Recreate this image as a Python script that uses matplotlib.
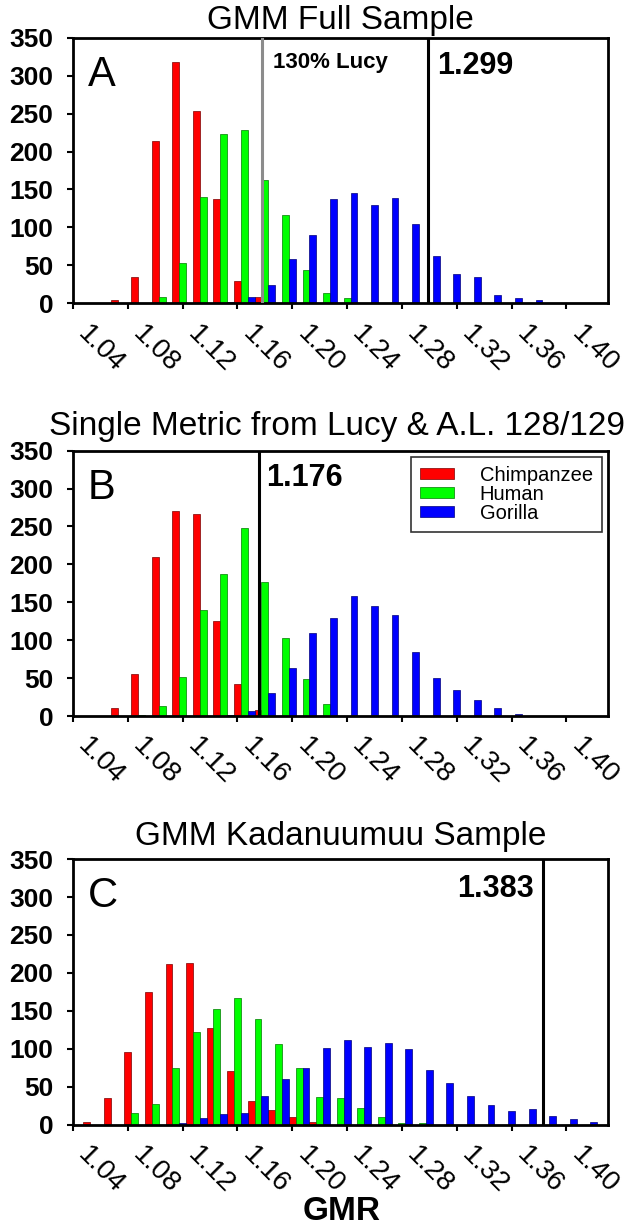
import numpy as np
import matplotlib.pyplot as plt

plt.rcParams['font.family'] = ['Liberation Sans', 'DejaVu Sans']

# ---------------- data (bin centres and counts) ----------------
bins_a = [1.045, 1.06, 1.075, 1.09, 1.105, 1.12, 1.135, 1.15, 1.165, 1.18, 1.195, 1.21,
          1.225, 1.24, 1.255, 1.27, 1.285, 1.30, 1.315, 1.33, 1.345, 1.36, 1.375]
chimp_a = [0, 0, 5, 35, 214, 318, 254, 137, 29, 8, 0, 0, 0, 0, 0, 0, 0, 0, 0, 0, 0, 0, 0]
human_a = [0, 0, 0, 0, 8, 53, 140, 223, 229, 162, 116, 44, 14, 7, 0, 0, 0, 0, 0, 0, 0, 0, 0]
gorilla_a = [0, 0, 0, 0, 0, 0, 0, 2, 8, 24, 59, 90, 137, 145, 130, 139, 105, 62, 39, 34, 11, 7, 5]

bins_b = bins_a
chimp_b = [0, 0, 11, 56, 210, 271, 267, 126, 43, 8, 0, 0, 0, 0, 0, 0, 0, 0, 0, 0, 0, 0, 0]
human_b = [0, 0, 0, 2, 13, 52, 140, 188, 248, 177, 103, 49, 16, 0, 0, 0, 0, 0, 0, 0, 0, 0, 0]
gorilla_b = [0, 0, 0, 0, 0, 0, 0, 2, 7, 30, 63, 110, 130, 159, 145, 134, 84, 50, 34, 21, 11, 3, 0]

bins_c = [1.055, 1.07, 1.085, 1.10, 1.115, 1.13, 1.145, 1.16, 1.175, 1.19, 1.205, 1.22, 1.235,
          1.25, 1.265, 1.28, 1.295, 1.31, 1.325, 1.34, 1.355, 1.37, 1.385, 1.40, 1.415]
chimp_c = [3, 35, 96, 175, 212, 213, 128, 71, 31, 20, 10, 3, 0, 0, 0, 0, 0, 0, 0, 0, 0, 0, 0, 0, 0]
human_c = [0, 0, 16, 27, 75, 122, 152, 167, 139, 107, 75, 37, 35, 22, 10, 2, 2, 0, 0, 0, 0, 0, 0, 0, 0]
gorilla_c = [0, 0, 0, 0, 2, 9, 14, 16, 38, 60, 75, 101, 112, 103, 108, 100, 72, 55, 38, 26, 18, 21, 11, 7, 3]

xticks = [1.04, 1.08, 1.12, 1.16, 1.20, 1.24, 1.28, 1.32, 1.36, 1.40]
yticks = [0, 50, 100, 150, 200, 250, 300, 350]

# ---------------- layout ----------------
fig = plt.figure(figsize=(6.24, 12.27), dpi=100)
left = 73 / 624
width = 534.5 / 624
height = 265.6 / 1227
ax_a = fig.add_axes([left, 1 - 303.3 / 1227, width, height])
ax_b = fig.add_axes([left, 1 - 716.2 / 1227, width, height])
ax_c = fig.add_axes([left, 1 - 1124.7 / 1227, width, height])

bw = 0.005  # three bars share one 0.015 bin


def draw_panel(ax, bins, chimp, human, gorilla, title, title_gap, title_x=0.5):
    x = np.array(bins)
    ax.bar(x - bw, chimp, width=bw, color='#ff0000', edgecolor='#7a0000', linewidth=0.5, label='Chimpanzee')
    ax.bar(x, human, width=bw, color='#00ff00', edgecolor='#007a00', linewidth=0.5, label='Human')
    ax.bar(x + bw, gorilla, width=bw, color='#0000ff', edgecolor='#00007a', linewidth=0.5, label='Gorilla')
    ax.set_xlim(1.04, 1.43)
    ax.set_ylim(0, 350)
    ax.set_yticks(yticks)
    ax.set_yticklabels([str(v) for v in yticks], fontsize=19, fontweight='bold')
    ax.set_xticks(xticks)
    ax.set_xticklabels(['%.2f' % v for v in xticks], fontsize=20, rotation=-45,
                       ha='left', va='top')
    ax.tick_params(axis='both', direction='out', length=4.3, width=1.5, color='black')
    ax.tick_params(axis='y', pad=10)
    ax.tick_params(axis='x', pad=8)
    for sp in ax.spines.values():
        sp.set_linewidth(2)
        sp.set_color('black')
    ax.text(title_x, 1 + title_gap / 265.6, title, transform=ax.transAxes, ha='center',
            va='baseline', fontsize=24)


draw_panel(ax_a, bins_a, chimp_a, human_a, gorilla_a, 'GMM Full Sample', 9)
draw_panel(ax_b, bins_b, chimp_b, human_b, gorilla_b, 'Single Metric from Lucy & A.L. 128/129', 16,
           title_x=(337 - 73) / 534.5)
draw_panel(ax_c, bins_c, chimp_c, human_c, gorilla_c, 'GMM Kadanuumuu Sample', 14)

# reference lines and labels
ax_a.axvline(1.178, color='#8c8c8c', linewidth=2.2, zorder=5)
ax_a.axvline(1.299, color='black', linewidth=2.2, zorder=5)
ax_a.text(1.186, 331, '130% Lucy', fontsize=16, fontweight='bold', va='top')
ax_a.text(1.306, 333, '1.299', fontsize=22, fontweight='bold', va='top')

ax_b.axvline(1.176, color='black', linewidth=2.2, zorder=5)
ax_b.text(1.181, 334, '1.176', fontsize=22, fontweight='bold', va='top')

ax_c.axvline(1.383, color='black', linewidth=2.2, zorder=5)
ax_c.text(1.376, 330, '1.383', fontsize=22, fontweight='bold', va='top', ha='right')

for ax, letter in [(ax_a, 'A'), (ax_b, 'B'), (ax_c, 'C')]:
    ax.text(0.028, 0.935, letter, transform=ax.transAxes, fontsize=30, va='top', ha='left')

leg = ax_b.legend(loc='upper right', bbox_to_anchor=(1 - 5.6 / 534.5, 1 - 6 / 265.6),
                  borderaxespad=0, fontsize=14.5, frameon=True, fancybox=False,
                  handlelength=1.65, handleheight=0.5, handletextpad=1.3,
                  labelspacing=0.0, borderpad=0.45)
leg.get_frame().set_edgecolor('black')
leg.get_frame().set_linewidth(1.2)

fig.text(342 / 624, 1 - 1220 / 1227, 'GMR', fontsize=24, fontweight='bold',
         ha='center', va='baseline')

fig.savefig('out.png', dpi=100)
